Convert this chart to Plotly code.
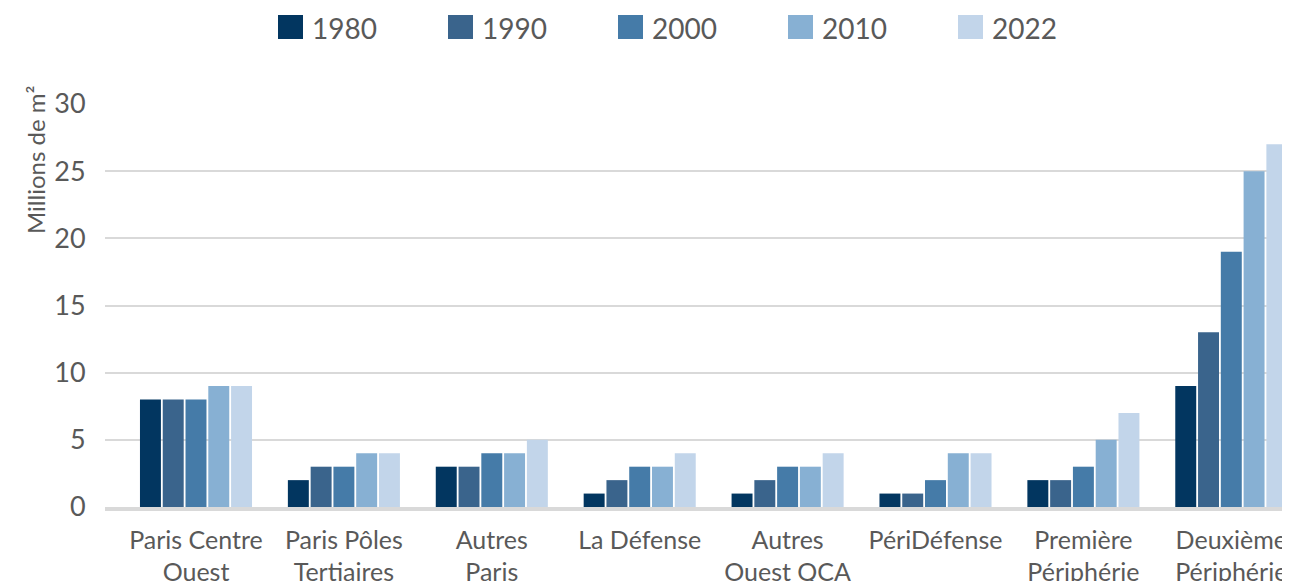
import plotly.graph_objects as go

categories = ["Paris Centre<br>Ouest", "Paris Pôles<br>Tertiaires", "Autres<br>Paris",
              "La Défense", "Autres<br>Ouest QCA", "PériDéfense",
              "Première<br>Périphérie", "Deuxième<br>Périphérie"]
years = ["1980", "1990", "2000", "2010", "2022"]
v1980 = [8, 2, 3, 1, 1, 1, 2, 9]
v1990 = [8, 3, 3, 2, 2, 1, 2, 13]
v2000 = [8, 3, 4, 3, 3, 2, 3, 19]
v2010 = [9, 4, 4, 3, 3, 4, 5, 25]
v2022 = [9, 4, 5, 4, 4, 4, 7, 27]
series = [v1980, v1990, v2000, v2010, v2022]
colors = ["#023660", "#3A648C", "#457BA8", "#87B0D3", "#C2D5EA"]
y_ticks = [0, 5, 10, 15, 20, 25, 30]
y_title = "Millions de m²"

# page has an 8px body margin: the figure starts at (8, 8) and reaches the window edges
OFF = 8
W, H = 1290 - OFF, 581 - OFF
ML, MR, MT, MB = 105 - OFF, 0, 104 - OFF, H - (507 - OFF)
PW, PH = W - ML - MR, H - MT - MB
TXT = "#595959"
FONT = "Lato"

fig = go.Figure()
for name, vals, col in zip(years, series, colors):
    fig.add_trace(go.Bar(x=list(range(len(categories))), y=vals, name=name,
                         marker=dict(color=col, line=dict(width=0)),
                         showlegend=False))

def px_x(px):
    return (px - OFF - ML) / PW

def px_y(py):
    return (H - MB - (py - OFF)) / PH

# manual legend (large square swatches)
shapes = []
annotations = []
x0 = 278
step = 170
for i, (name, col) in enumerate(zip(years, colors)):
    sx = x0 + i * step
    shapes.append(dict(type="rect", xref="paper", yref="paper",
                       x0=px_x(sx), x1=px_x(sx + 25), y0=px_y(39), y1=px_y(15),
                       fillcolor=col, line=dict(width=0)))
    annotations.append(dict(xref="paper", yref="paper", x=px_x(sx + 32), y=px_y(28),
                            xanchor="left", yanchor="middle", text=name, showarrow=False,
                            font=dict(family=FONT, size=28, color=TXT)))

annotations.append(dict(xref="paper", yref="paper", x=px_x(35), y=px_y(160),
                        xanchor="center", yanchor="middle", text=y_title, textangle=-90,
                        showarrow=False, font=dict(family=FONT, size=24, color=TXT)))

# x range: category spacing of ~147.9 px, first category centred at page x=196
spacing = 147.9
r0 = -((196 - 105) / spacing)
r1 = r0 + PW / spacing

fig.update_layout(
    width=W, height=H,
    margin=dict(l=ML, r=MR, t=MT, b=MB, autoexpand=False),
    paper_bgcolor="white", plot_bgcolor="white",
    barmode="group", bargap=0.23, bargroupgap=0.08,
    shapes=shapes, annotations=annotations,
    font=dict(family=FONT, color=TXT),
)
fig.update_xaxes(
    tickmode="array", tickvals=list(range(len(categories))), ticktext=categories,
    range=[r0, r1], automargin=False, ticklabeloverflow="allow",
    showline=True, linecolor="#D9D9D9", linewidth=3.5,
    showgrid=False, zeroline=False,
    ticks="outside", ticklen=8, tickcolor="rgba(0,0,0,0)",
    tickfont=dict(family=FONT, size=25, color=TXT),
)
fig.update_yaxes(
    range=[0, 30], tickvals=y_ticks, automargin=False,
    showgrid=True, gridcolor="#D9D9D9", gridwidth=1.5,
    zeroline=False, showline=False,
    ticks="outside", ticklen=13, tickcolor="rgba(0,0,0,0)",
    tickfont=dict(family=FONT, size=27, color=TXT),
)

fig.write_html("out.html")
